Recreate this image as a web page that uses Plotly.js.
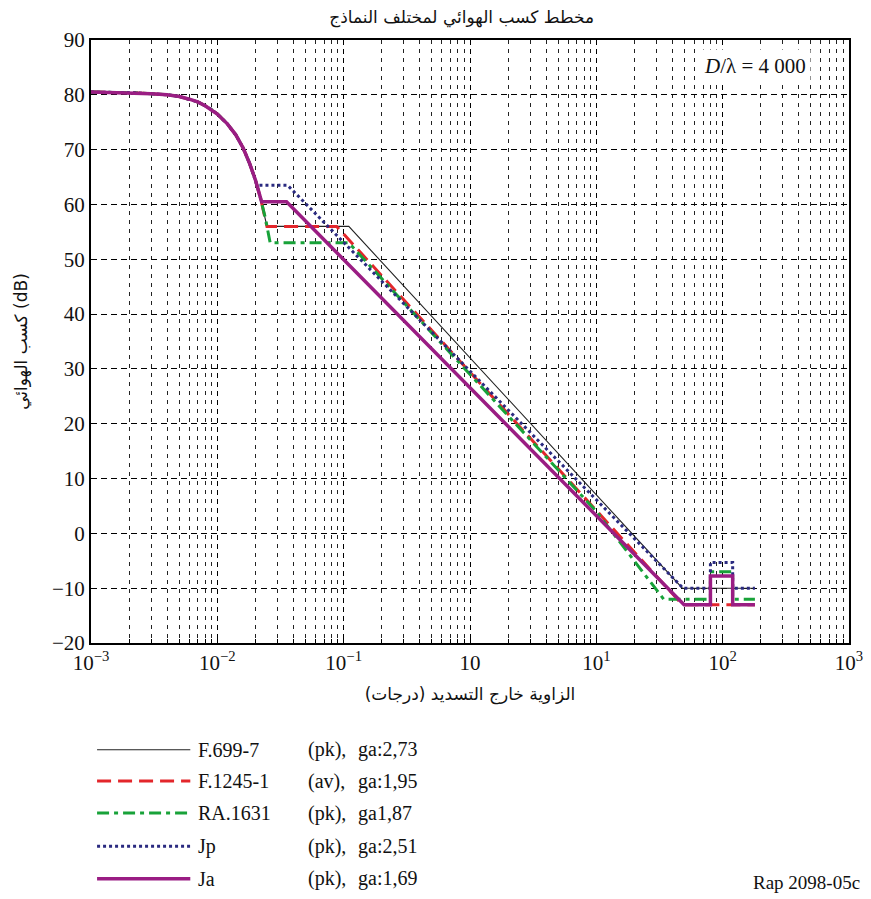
<!DOCTYPE html>
<html><head><meta charset="utf-8">
<script src="https://cdn.plot.ly/plotly-3.0.1.min.js"></script>
<style>html,body{margin:0;padding:0;background:#fff}</style>
</head><body><div id="chart" style="width:871px;height:899px"></div>
<script>
// Shared main-lobe points (angle in degrees, gain in dB)
const mainAngle = [0.001, 0.002, 0.003, 0.004, 0.005, 0.006, 0.007, 0.008, 0.009, 0.010, 0.012, 0.014, 0.016, 0.018, 0.020];
const mainGain  = [80.5, 80.4, 80.2, 80.0, 79.7, 79.2, 78.7, 78.0, 77.3, 76.5, 74.7, 72.7, 70.3, 67.5, 64.5];

// Sidelobe / far-out parts of each model
const f699Angle  = [0.022, 0.0247, 0.1098, 48, 180];
const f699Gain   = [61.1, 56, 56, -10, -10];
const f1245Angle = [0.022, 0.0247, 0.088, 48, 180];
const f1245Gain  = [61.1, 56, 56, -13, -13];
const ra1631Angle = [0.022, 0.024, 0.0262, 0.1098, 10, 34.1, 80, 80, 120, 120, 180];
const ra1631Gain  = [61.1, 57.5, 53, 53, 4, -12, -12, -7, -7, -12, -12];
const jpAngle = [0.0206, 0.036, 48.6, 80, 80, 120, 120, 180];
const jpGain  = [63.5, 63.5, -10, -10, -5.3, -5.3, -10, -10];
const jaAngle = [0.022, 0.0224, 0.0353, 49.5, 80, 80, 120, 120, 180];
const jaGain  = [61.1, 60.5, 60.5, -13, -13, -7.8, -7.8, -13, -13];

const seriesNames = ['F.699-7', 'F.1245-1', 'RA.1631', 'Jp', 'Ja'];
const seriesMode  = ['(pk),', '(av),', '(pk),', '(pk),', '(pk),'];
const seriesGa    = ['ga:2,73', 'ga:1,95', 'ga1,87', 'ga:2,51', 'ga:1,69'];

const xTickVals = [0.001, 0.01, 0.1, 1, 10, 100, 1000];
const xTickText = ['10<sup>−3</sup>', '10<sup>−2</sup>', '10<sup>−1</sup>', '10', '10<sup>1</sup>', '10<sup>2</sup>', '10<sup>3</sup>'];

const styles = [
  {color: '#222222', width: 1.1, dash: 'solid'},
  {color: '#e3262b', width: 3, dash: '14px,7px'},
  {color: '#18a239', width: 3, dash: '12px,5px,4px,5px'},
  {color: '#2a2a80', width: 3, dash: '3px,3px'},
  {color: '#9a1d83', width: 3.5, dash: 'solid'}
];

const parts = [[f699Angle, f699Gain], [f1245Angle, f1245Gain], [ra1631Angle, ra1631Gain], [jpAngle, jpGain], [jaAngle, jaGain]];

const traces = parts.map((p, i) => {
  const xs = [], ys = [];
  for (let k = 0; k < mainAngle.length; k++) {
    if (mainAngle[k] < p[0][0]) { xs.push(mainAngle[k]); ys.push(mainGain[k]); }
  }
  return {
    type: 'scatter', mode: 'lines', name: seriesNames[i],
    x: xs.concat(p[0]), y: ys.concat(p[1]),
    line: {color: styles[i].color, width: styles[i].width, dash: styles[i].dash},
    showlegend: false, hoverinfo: 'skip'
  };
});

const serif = '"Liberation Serif", "Times New Roman", "DejaVu Serif", serif';
const arab = '"DejaVu Sans", sans-serif';

// manual legend
const legendY = [-0.177, -0.229, -0.282, -0.337, -0.391];
const shapes = [];
const annotations = [];
for (let i = 0; i < seriesNames.length; i++) {
  shapes.push({type: 'line', xref: 'paper', yref: 'paper', x0: 0.008, x1: 0.131, y0: legendY[i], y1: legendY[i],
    line: {color: styles[i].color, width: styles[i].width, dash: styles[i].dash}});
  annotations.push({xref: 'paper', yref: 'paper', x: 0.139, y: legendY[i], xanchor: 'left', yanchor: 'middle',
    text: seriesNames[i], showarrow: false, font: {family: serif, size: 20, color: '#111'}});
  annotations.push({xref: 'paper', yref: 'paper', x: 0.284, y: legendY[i], xanchor: 'left', yanchor: 'middle',
    text: seriesMode[i], showarrow: false, font: {family: serif, size: 20, color: '#111'}});
  annotations.push({xref: 'paper', yref: 'paper', x: 0.35, y: legendY[i], xanchor: 'left', yanchor: 'middle',
    text: seriesGa[i], showarrow: false, font: {family: serif, size: 20, color: '#111'}});
}
annotations.push({xref: 'paper', yref: 'paper', x: 0.95, y: 0.957, xanchor: 'right', yanchor: 'middle',
  text: '<i>D</i>/λ = 4 000', showarrow: false, bgcolor: '#ffffff', borderpad: 4,
  font: {family: serif, size: 21, color: '#111'}});
annotations.push({xref: 'paper', yref: 'paper', x: 1.017, y: -0.397, xanchor: 'right', yanchor: 'middle',
  text: 'Rap 2098-05c', showarrow: false, font: {family: serif, size: 19, color: '#111'}});

const layout = {
  width: 871, height: 899,
  margin: {l: 91, r: 22, t: 40, b: 256},
  paper_bgcolor: '#ffffff', plot_bgcolor: '#ffffff',
  title: {text: 'مخطط كسب الهوائي لمختلف النماذج', xref: 'container', x: 0.53, xanchor: 'center',
    yref: 'container', y: 0.981, yanchor: 'middle', font: {family: arab, size: 17, color: '#111'}},
  xaxis: {
    type: 'log', range: [-3, 3],
    tickmode: 'array', tickvals: xTickVals, ticktext: xTickText,
    tickfont: {family: serif, size: 21, color: '#111'},
    showline: true, mirror: true, linecolor: '#000', linewidth: 2,
    ticks: 'inside', ticklen: 6, tickcolor: '#000',
    showgrid: true, gridcolor: '#000', gridwidth: 1, griddash: '5px,4px',
    minor: {dtick: 'D1', showgrid: true, gridcolor: '#222', gridwidth: 1, griddash: '4px,5px', ticks: 'inside', ticklen: 4, tickcolor: '#000'},
    zeroline: false,
    title: {text: 'الزاوية خارج التسديد (درجات)', font: {family: arab, size: 17, color: '#111'}, standoff: 14}
  },
  yaxis: {
    range: [-20, 90], dtick: 10, tick0: 0,
    tickfont: {family: serif, size: 21, color: '#111'},
    showline: true, mirror: true, linecolor: '#000', linewidth: 2,
    ticks: 'inside', ticklen: 5, tickcolor: '#000',
    showgrid: true, gridcolor: '#000', gridwidth: 1, griddash: '6px,4px',
    zeroline: false,
    title: {text: 'كسب الهوائي (dB)', font: {family: arab, size: 17, color: '#111'}, standoff: 20}
  },
  shapes: shapes,
  annotations: annotations
};

Plotly.newPlot('chart', traces, layout, {staticPlot: true, displayModeBar: false});
</script>
</body></html>
